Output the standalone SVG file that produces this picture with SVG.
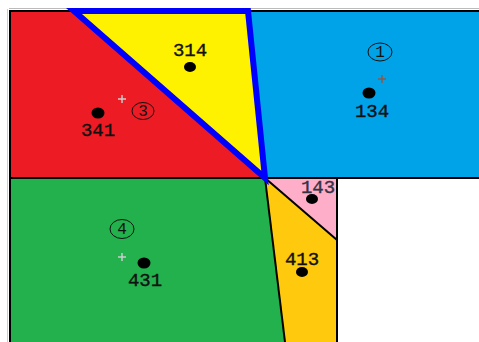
<svg xmlns="http://www.w3.org/2000/svg" width="479" height="342" viewBox="0 0 479 342">
<style>
.edge{fill:none;stroke:#000;stroke-width:2;stroke-linejoin:miter}
.lbl{font-family:"Liberation Mono","Courier New",monospace;font-size:19px;fill:#111;stroke:#111;stroke-width:0.4;text-anchor:middle}
.num{font-family:"Liberation Mono","Courier New",monospace;font-size:16px;fill:#111;text-anchor:middle}
.ring{fill:none;stroke:#111;stroke-width:1}
.dot{fill:#000}
.plus{stroke-width:1.5}
</style>
<rect width="479" height="342" fill="#fff"/>
<g id="region-blue">
<polygon points="248,11 479,11 479,178 265,178" fill="#00a2e8"/>
</g>
<g id="region-red">
<polygon points="11,11 74,11 265,178 11,178" fill="#ed1c24"/>
</g>
<g id="region-yellow">
<polygon points="74,11 248,11 265,178" fill="#fff200"/>
</g>
<g id="region-green">
<polygon points="11,178 265,178 285,342 11,342" fill="#22b14c"/>
</g>
<g id="region-orange">
<polygon points="265,178 337,240 337,342 285,342" fill="#ffc90e"/>
</g>
<g id="region-pink">
<polygon points="265,178 337,178 337,240" fill="#ffaec9"/>
</g>
<g id="borders">
<line x1="9" y1="8.5" x2="479" y2="8.5" stroke="#bbb" stroke-width="1"/>
<line x1="7.5" y1="9" x2="7.5" y2="342" stroke="#ccc" stroke-width="1"/>
<polyline class="edge" points="10,342 10,11 479,11" stroke-width="2.5"/>
<line class="edge" x1="10" y1="178" x2="479" y2="178" stroke-width="2.5"/>
<line class="edge" x1="265" y1="178" x2="285" y2="342"/>
<line class="edge" x1="265" y1="178" x2="337" y2="240"/>
<line class="edge" x1="337" y1="178" x2="337" y2="342" stroke-width="2.5"/>
<polygon points="74,11 248,11 265,178" fill="none" stroke="#0000ff" stroke-width="6" stroke-linejoin="miter"/>
</g>
<g id="label-314">
<text class="lbl" x="190" y="56">314</text>
<ellipse class="dot" cx="190" cy="67" rx="6" ry="5"/>
</g>
<g id="label-341">
<ellipse class="dot" cx="98" cy="113" rx="6.5" ry="5.5"/>
<text class="lbl" x="98" y="136">341</text>
<path class="plus" d="M118,99h8M122,95v8" stroke="#ccc"/>
<ellipse class="ring" cx="143" cy="111" rx="11" ry="8.5"/>
<text class="num" x="143" y="116">3</text>
</g>
<g id="label-134">
<ellipse class="ring" cx="380" cy="52" rx="12" ry="9"/>
<text class="num" x="380" y="57">1</text>
<path class="plus" d="M378,79h8M382,75v8" stroke="#8a5a4a"/>
<ellipse class="dot" cx="369" cy="93" rx="6.5" ry="5.5"/>
<text class="lbl" x="372" y="117">134</text>
</g>
<g id="label-431">
<ellipse class="ring" cx="122" cy="229" rx="12" ry="9.5"/>
<text class="num" x="122" y="234">4</text>
<path class="plus" d="M118,257h8M122,253v8" stroke="#ccc"/>
<ellipse class="dot" cx="144" cy="263" rx="6.5" ry="5.5"/>
<text class="lbl" x="145" y="286">431</text>
</g>
<g id="label-143">
<text class="lbl" x="318" y="193" style="fill:#334;stroke:#334">143</text>
<ellipse class="dot" cx="312" cy="199" rx="6" ry="5"/>
</g>
<g id="label-413">
<text class="lbl" x="302" y="265">413</text>
<ellipse class="dot" cx="302" cy="272" rx="6" ry="5"/>
</g>
</svg>
